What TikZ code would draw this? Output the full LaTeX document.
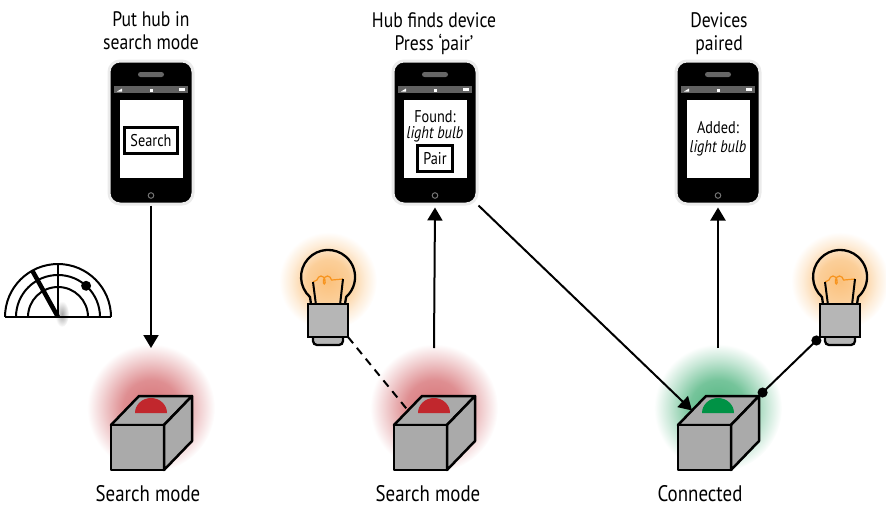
\documentclass[tikz,border=0pt]{standalone}
\usepackage{fontspec}
\setmainfont{PT Sans}[FakeStretch=0.84]
\usetikzlibrary{arrows.meta,decorations.pathmorphing}

\definecolor{hubred}{RGB}{193,39,45}
\definecolor{hubgreen}{RGB}{0,146,69}
\definecolor{bulborange}{RGB}{247,148,30}
\definecolor{boxgray}{RGB}{170,170,170}
\definecolor{capgray}{RGB}{182,182,182}

% soft glows behind the hubs and bulbs (edge of the path = 25bp)
\pgfdeclareradialshading{hubredglow}{\pgfpoint{0bp}{0bp}}{color(0bp)=(hubred!65); color(11bp)=(hubred!52); color(19bp)=(hubred!22); color(25bp)=(white); color(50bp)=(white)}
\pgfdeclareradialshading{hubgreenglow}{\pgfpoint{0bp}{0bp}}{color(0bp)=(hubgreen!68); color(11bp)=(hubgreen!54); color(19bp)=(hubgreen!22); color(25bp)=(white); color(50bp)=(white)}
\pgfdeclareradialshading{bulbglow}{\pgfpoint{0bp}{0bp}}{color(0bp)=(bulborange!58); color(11bp)=(bulborange!45); color(19bp)=(bulborange!17); color(25bp)=(white); color(50bp)=(white)}
\pgfdeclareradialshading{sweepblur}{\pgfpoint{0bp}{0bp}}{color(0bp)=(black!35); color(25bp)=(white); color(50bp)=(white)}

\begin{document}
\begin{tikzpicture}[x=1pt, y=1pt,
  phone/.style = {rectangle, rounded corners=11, fill=black, draw=black!8,
                  line width=3, minimum width=84, minimum height=143, inner sep=0},
  title/.style = {font=\fontsize{21}{23}\selectfont, align=center},
  caption/.style = {font=\fontsize{22.5}{23}\selectfont, anchor=base, inner sep=0},
  screentext/.style = {font=\fontsize{17}{16}\selectfont, align=center},
  btn/.style = {draw, line width=2.4, font=\fontsize{17}{17}\selectfont,
                minimum height=26, inner xsep=6, inner ysep=0},
  cube/.style = {draw, fill=boxgray, line width=2.5, line join=round},
  arr/.style = {-{Triangle[length=13pt, width=15pt]}, line width=2},
  radar/.style = {line width=2},
  handset/.pic = {
    \fill[black!60, rounded corners=2.5] (-13,55.5) rectangle (13,60.5);
    \fill[black!62] (-37,39.5) rectangle (37,46.5);
    \fill[white] (-34,41) -- (-29,41) -- (-29,44) -- cycle;
    \fill[white] (-1.5,41) rectangle (1.5,43.5);
    \fill[white] (28,41.5) rectangle (34,44.5);
    \fill[white] (-31.5,-45.5) rectangle (31.5,32.5);
    \draw[black!55, line width=1] (0,-63) circle (2.8);
  },
  hubbox/.pic = {
    \shade[shading=#1glow] (0,5) circle (64);
    \draw[cube] (-40,-12) -- (-12,17) -- (41,17) -- (13,-12) -- cycle;
    \fill[#1] (-16,0) arc[start angle=180, end angle=0, x radius=16, y radius=15] -- cycle;
    \draw[cube] (-40,-12) rectangle (13,-57);
    \draw[cube] (13,-12) -- (41,17) -- (41,-28) -- (13,-57) -- cycle;
    \coordinate (-w) at (-26,2.5);
    \coordinate (-ne) at (41,17);
    \coordinate (-n) at (0,65);
  },
  bulb/.pic = {
    \shade[shading=bulbglow] (0,-4) circle (49);
    \draw[bulborange, line width=1.2] (-15,-5) -- (-11,-3)
      decorate[decoration={coil, segment length=6.5, amplitude=4, aspect=0.6}] {-- (4,-3)} -- (15,-2);
    \draw[line width=2] (-15,-5) -- (-12,-28) (15,-2) -- (12,-28);
    \draw[line width=2.3] (-17,-27) -- (-18,-20) arc[start angle=228, end angle=-48, radius=27] -- (17,-27);
    \draw[fill=capgray, line width=2.3, rounded corners=4] (-15,-58) -- (-15,-68) -- (15,-68) -- (15,-58);
    \draw[fill=capgray, line width=2.3] (-20,-27) rectangle (20,-60);
    \coordinate (-se) at (20,-60);
    \coordinate (-sw) at (-20,-60);
  }]
\useasboundingbox (0,0) rectangle (886,-506);

% three handsets
\node[phone] (ph1) at (151,-132.5) {};
\pic at (ph1) {handset};
\node[phone] (ph2) at (435,-132.5) {};
\pic at (ph2) {handset};
\node[phone] (ph3) at (718,-132.5) {};
\pic at (ph3) {handset};

\node[title] (t1) at (151,-31) {Put hub in\\search mode};
\node[title] (t2) at (434,-33.5) {Hub finds device\\Press ‘pair’};
\node[title] (t3) at (719,-34) {Devices\\paired};

\node[btn] (search) at (151,-140.5) {Search};
\node[screentext] (found) at (435,-126) {Found:\\\textit{light bulb}};
\node[btn] (pair) at (435,-158.5) {Pair};
\node[screentext, font=\fontsize{17}{19}\selectfont] (added) at (718,-139) {Added:\\\textit{light bulb}};

% hubs
\pic (h1) at (151,-413) {hubbox=hubred};
\pic (h2) at (434,-413) {hubbox=hubred};
\pic (h3) at (718,-413) {hubbox=hubgreen};

\node[caption] (c1) at (148,-501) {Search mode};
\node[caption] (c2) at (428,-501) {Search mode};
\node[caption] (c3) at (700,-501) {Connected};

% bulbs
\pic (b2) at (328,-277) {bulb};
\pic (b3) at (840,-277) {bulb};

% radar sweep
\shade[shading=sweepblur] (62,-314) ellipse [x radius=7, y radius=13];
\draw[radar] (5,-317) -- (111,-317);
\draw[radar] (5,-317) arc[start angle=180, end angle=0, radius=53];
\draw[radar] (16,-317) arc[start angle=180, end angle=0, radius=42];
\draw[radar] (28,-317) arc[start angle=180, end angle=0, radius=30];
\draw[line width=1.2] (58,-317) -- (58,-264);
\draw[line width=4.5] (58,-317) -- ++(119:53);
\fill (58,-317) ++(48:42) circle (5);

% links
\draw[arr] (ph1.south) -- (h1-n);
\draw[arr, shorten >=2] (h2-n) -- (ph2.south);
\draw[arr, shorten >=2] (h3-n) -- (ph3.south);
\draw[arr] (ph2.south east) -- (h3-w);
\draw[line width=2, dash pattern=on 8pt off 6pt] (b2-se) -- (h2-w);
\draw[{Circle[length=10pt]}-{Circle[length=10pt]}, line width=2] (h3-ne) -- (b3-sw);

\end{tikzpicture}
\end{document}
